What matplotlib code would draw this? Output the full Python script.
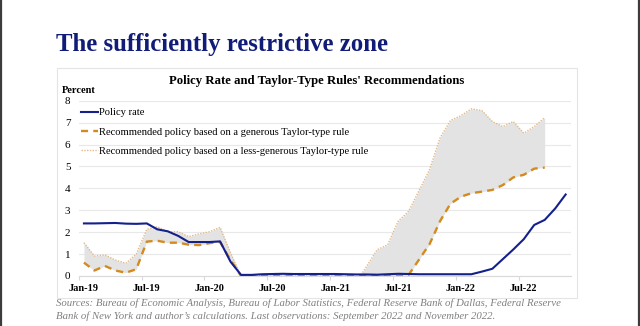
import numpy as np
import matplotlib
matplotlib.use("Agg")
import matplotlib.pyplot as plt
from matplotlib.patches import Rectangle
from matplotlib.lines import Line2D

plt.rcParams['font.family'] = ['Liberation Serif', 'DejaVu Serif']

# monthly, Jan-19 .. Nov-22
policy_rate = [2.40, 2.40, 2.41, 2.42, 2.39, 2.38, 2.40, 2.13, 2.04, 1.83, 1.55, 1.55,
               1.55, 1.58, 0.65, 0.05, 0.05, 0.08, 0.09, 0.10, 0.09, 0.09, 0.09, 0.09,
               0.09, 0.08, 0.07, 0.07, 0.06, 0.08, 0.10, 0.09, 0.08, 0.08, 0.08, 0.08,
               0.08, 0.08, 0.20, 0.33, 0.77, 1.21, 1.68, 2.33, 2.56, 3.08, 3.72]

# monthly, Jan-19 .. Sep-22
generous_rule = [0.61, 0.25, 0.46, 0.25, 0.15, 0.31, 1.57, 1.61, 1.52, 1.52, 1.43, 1.41,
                 1.50, 1.55, 0.73, 0.00, 0.00, 0.00, 0.00, 0.00, 0.00, 0.00, 0.00, 0.00,
                 0.00, 0.00, 0.00, 0.00, 0.00, 0.00, 0.00, 0.05, 0.75, 1.45, 2.50, 3.30,
                 3.62, 3.78, 3.85, 3.93, 4.15, 4.50, 4.62, 4.90, 4.95]

less_generous_rule = [1.52, 0.91, 0.96, 0.73, 0.58, 1.00, 2.13, 2.25, 2.02, 2.02, 1.80, 1.92,
                      2.02, 2.22, 1.05, 0.00, 0.00, 0.00, 0.00, 0.00, 0.00, 0.00, 0.00, 0.00,
                      0.00, 0.00, -0.30, 0.45, 1.20, 1.42, 2.50, 2.95, 3.90, 4.85, 6.30, 7.10,
                      7.32, 7.63, 7.55, 7.05, 6.82, 7.05, 6.52, 6.82, 7.23]

tick_labels = ['Jan-19', 'Jul-19', 'Jan-20', 'Jul-20', 'Jan-21', 'Jul-21', 'Jan-22', 'Jul-22']

NAVY = '#14208c'
ORANGE = '#d48a1e'
TAN = '#e2b98c'

fig = plt.figure(figsize=(6.4, 3.26), dpi=100)

# slide frame + chart panel
fig.add_artist(Line2D([0.002, 0.002], [0, 1], transform=fig.transFigure, color='#3c3c3c', lw=1.6))
fig.add_artist(Line2D([0.998, 0.998], [0, 1], transform=fig.transFigure, color='#3c3c3c', lw=1.6))
fig.add_artist(Rectangle((0.0883, 0.0868), 0.814, 0.7037, transform=fig.transFigure,
                         facecolor='none', edgecolor='#e4e4e4', lw=0.8))

fig.text(0.0875, 0.8445, 'The sufficiently restrictive zone', color='#101c78',
         fontsize=17.8, fontweight='bold', va='baseline', ha='left')
fig.text(0.495, 0.7423, "Policy Rate and Taylor-Type Rules' Recommendations",
         fontsize=9.2, fontweight='bold', va='baseline', ha='center')
fig.text(0.096, 0.7147, 'Percent', fontsize=7.5, fontweight='bold', va='baseline', ha='left')

ax = fig.add_axes([0.123, 0.1534, 0.769, 0.5376])

x_policy = np.arange(len(policy_rate))
x_rules = np.arange(len(generous_rule))

ax.fill_between(x_rules, generous_rule, less_generous_rule, color='#e3e3e3', lw=0, zorder=1)
ax.plot(x_policy, policy_rate, color=NAVY, lw=1.5, label='Policy rate', zorder=4)
ax.plot(x_rules, generous_rule, color=ORANGE, lw=1.7, ls=(0, (3, 2.2)),
        label='Recommended policy based on a generous Taylor-type rule', zorder=3)
ax.plot(x_rules, less_generous_rule, color=TAN, lw=1.0, ls=(0, (1, 1)),
        label='Recommended policy based on a less-generous Taylor-type rule', zorder=2)

ax.set_xlim(-0.5, 46.5)
ax.set_ylim(0, 8)
ax.set_yticks(range(0, 9))
ax.set_xticks(np.arange(0, 47, 6))
ax.set_xticklabels(tick_labels, fontweight='bold', fontsize=7.5)
ax.set_xticks(np.arange(-0.5, 46, 6), minor=True)
ax.tick_params(axis='x', which='major', length=0, pad=6)
ax.tick_params(axis='x', which='minor', length=3, color='#d9d9d9', width=0.8)
ax.tick_params(axis='y', length=0, pad=6, labelsize=8)

ax.grid(axis='y', color='#e8e8e8', lw=0.8)
ax.set_axisbelow(True)
for side in ['top', 'right', 'left']:
    ax.spines[side].set_visible(False)
ax.spines['bottom'].set_color('#d9d9d9')
ax.spines['bottom'].set_linewidth(0.8)

ax.legend(loc='upper left', bbox_to_anchor=(-0.004, 0.982), frameon=False, fontsize=7.55,
          handlelength=1.6, handletextpad=0.15, labelspacing=0.95, borderaxespad=0)

src_style = dict(fontsize=7.75, style='italic', color='#808080', va='center', ha='left')
fig.text(0.0875, 0.0706, "Sources: Bureau of Economic Analysis, Bureau of Labor Statistics, "
         "Federal Reserve Bank of Dallas, Federal Reserve", **src_style)
fig.text(0.0875, 0.0307, "Bank of New York and author\u2019s calculations. "
         "Last observations: September 2022 and November 2022.", **src_style)

fig.savefig('out.png', dpi=100)
